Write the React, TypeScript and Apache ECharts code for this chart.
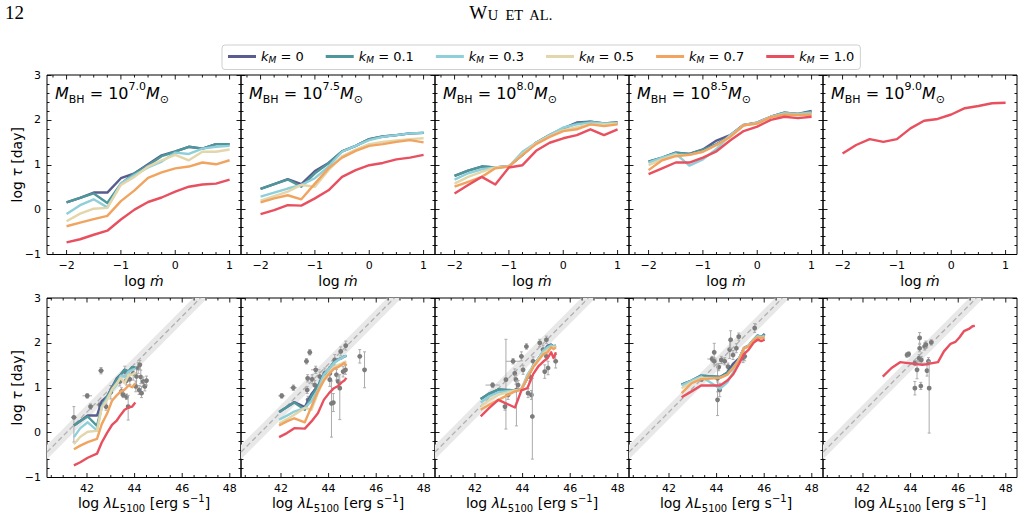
import React, { useEffect, useRef } from 'react';
import * as echarts from 'echarts';

const FONT = 'DejaVu Sans';
const SERIF = 'Liberation Serif';

// model grid in accretion rate (log mdot)
const LOG_MDOT = [-2, -1.75, -1.5, -1.25, -1, -0.75, -0.5, -0.25, 0, 0.25, 0.5, 0.75, 1];

const MASS_EXP = ['7.0', '7.5', '8.0', '8.5', '9.0'];
const K_LABELS = ['0', '0.1', '0.3', '0.5', '0.7', '1.0'];
const K_COLORS = ['#5a5b8e', '#4d979b', '#8fcfd9', '#e2d6aa', '#f0a45f', '#e8505f'];

// log tau [day] for k_M = 0, 0.1, 0.3, 0.5, 0.7, 1.0
const TAU_M70 = [
  [0.16, 0.26, 0.38, 0.38, 0.70, 0.81, 1.01, 1.21, 1.30, 1.40, 1.36, 1.46, 1.46],
  [0.16, 0.26, 0.36, 0.15, 0.58, 0.81, 0.99, 1.19, 1.29, 1.40, 1.36, 1.46, 1.46],
  [-0.10, 0.10, 0.23, 0.05, 0.58, 0.77, 0.94, 1.07, 1.27, 1.24, 1.36, 1.40, 1.42],
  [-0.26, -0.09, 0.02, 0.04, 0.55, 0.73, 0.96, 1.10, 1.22, 1.10, 1.29, 1.29, 1.34],
  [-0.37, -0.29, -0.21, -0.14, 0.19, 0.43, 0.71, 0.83, 0.92, 0.96, 1.05, 1.01, 1.10],
  [-0.73, -0.66, -0.56, -0.47, -0.22, 0.00, 0.17, 0.27, 0.40, 0.51, 0.56, 0.58, 0.67],
];
const TAU_M75 = [
  [0.46, 0.57, 0.68, 0.57, 0.86, 1.04, 1.30, 1.42, 1.57, 1.63, 1.66, 1.70, 1.71],
  [0.46, 0.57, 0.67, 0.51, 0.81, 1.03, 1.30, 1.42, 1.57, 1.63, 1.66, 1.70, 1.71],
  [0.29, 0.38, 0.47, 0.55, 0.70, 0.96, 1.29, 1.42, 1.55, 1.62, 1.66, 1.70, 1.71],
  [0.20, 0.30, 0.40, 0.55, 0.51, 0.88, 1.19, 1.34, 1.46, 1.51, 1.54, 1.57, 1.59],
  [0.16, 0.25, 0.32, 0.23, 0.58, 0.92, 1.16, 1.31, 1.42, 1.46, 1.51, 1.55, 1.50],
  [-0.10, -0.01, 0.10, 0.09, 0.25, 0.43, 0.73, 0.88, 0.99, 1.04, 1.12, 1.16, 1.22],
];
const TAU_M80 = [
  [0.75, 0.87, 0.96, 0.94, 0.97, 1.22, 1.49, 1.66, 1.81, 1.94, 1.96, 1.92, 1.94],
  [0.75, 0.87, 0.96, 0.94, 0.97, 1.22, 1.49, 1.66, 1.81, 1.92, 1.96, 1.92, 1.94],
  [0.67, 0.81, 0.90, 0.94, 0.96, 1.29, 1.49, 1.66, 1.83, 1.90, 1.94, 1.92, 1.92],
  [0.58, 0.73, 0.84, 0.94, 0.96, 1.24, 1.48, 1.64, 1.77, 1.84, 1.90, 1.90, 1.92],
  [0.51, 0.62, 0.73, 0.92, 0.96, 1.22, 1.46, 1.62, 1.75, 1.79, 1.90, 1.86, 1.90],
  [0.36, 0.55, 0.73, 0.56, 0.94, 0.99, 1.31, 1.49, 1.59, 1.66, 1.79, 1.66, 1.79],
];
const TAU_M85 = [
  [1.07, 1.16, 1.27, 1.24, 1.34, 1.54, 1.66, 1.89, 1.94, 2.07, 2.16, 2.13, 2.20],
  [1.07, 1.16, 1.27, 1.24, 1.33, 1.46, 1.64, 1.88, 1.94, 2.07, 2.16, 2.13, 2.18],
  [1.05, 1.16, 1.25, 0.98, 1.12, 1.35, 1.66, 1.88, 1.94, 2.07, 2.15, 2.13, 2.16],
  [0.99, 1.12, 1.22, 1.22, 1.29, 1.44, 1.62, 1.88, 1.92, 2.06, 2.12, 2.11, 2.12],
  [0.88, 1.10, 1.19, 1.22, 1.29, 1.44, 1.62, 1.88, 1.92, 2.06, 2.12, 2.11, 2.12],
  [0.79, 0.92, 1.05, 1.05, 1.16, 1.30, 1.54, 1.75, 1.85, 2.00, 2.07, 2.04, 2.07],
];
const TAU_M90 = [
  null, null, null, null, null,
  [1.25, 1.44, 1.57, 1.51, 1.57, 1.81, 1.98, 2.02, 2.12, 2.26, 2.31, 2.37, 2.38],
];
const TAU_BY_MASS = [TAU_M70, TAU_M75, TAU_M80, TAU_M85, TAU_M90];

// log lambda L5100 [erg/s] of the models along the mdot grid
const LUM_M70 = [41.45, 41.72, 42.03, 42.42, 42.62, 42.85, 43.05, 43.25, 43.42, 43.58, 43.75, 43.90, 44.03];
const LUM_M75 = [41.92, 42.25, 42.56, 43.00, 43.28, 43.55, 43.80, 44.02, 44.22, 44.40, 44.55, 44.66, 44.75];
const LUM_M80 = [42.24, 42.60, 42.98, 43.68, 43.95, 44.20, 44.45, 44.68, 44.88, 45.05, 45.20, 45.30, 45.40];
const LUM_M85 = [42.53, 42.95, 43.35, 44.15, 44.45, 44.70, 44.95, 45.15, 45.35, 45.55, 45.72, 45.88, 46.02];
const LUM_M90 = [42.83, 43.20, 43.56, 44.50, 45.15, 45.40, 45.68, 45.88, 46.05, 46.24, 46.45, 46.60, 46.70];
const LUM_BY_MASS = [LUM_M70, LUM_M75, LUM_M80, LUM_M85, LUM_M90];

// reverberation-mapped AGN: [log L5100, log tau, xErr, yErrLow, yErrHigh]
const OBS_M70 = [
  [41.45, 0.34, 0.12, 0.55, 0.24], [42.01, 0.82, 0.2, 0.05, 0.05], [42.15, 0.58, 0.05, 0.06, 0.06],
  [42.59, 1.38, 0.12, 0.07, 0.07], [42.54, 0.62, 0.15, 0.06, 0.06], [42.8, 0.58, 0.05, 0.08, 0.08],
  [43.0, 0.9, 0.05, 0.15, 0.15], [43.38, 1.14, 0.1, 0.1, 0.1], [43.45, 0.92, 0.05, 0.08, 0.08],
  [43.52, 0.84, 0.05, 0.06, 0.06], [43.66, 0.8, 0.05, 0.06, 0.06], [43.59, 1.36, 0.08, 0.1, 0.12],
  [43.66, 1.16, 0.05, 0.1, 0.1], [43.73, 0.58, 0.05, 0.3, 0.25], [43.8, 1.19, 0.05, 0.12, 0.12],
  [43.94, 1.32, 0.05, 0.15, 0.15], [44.08, 1.25, 0.05, 0.2, 0.18], [44.05, 1.03, 0.05, 0.12, 0.12],
  [44.15, 1.44, 0.06, 0.12, 0.12], [44.22, 1.51, 0.05, 0.1, 0.1], [44.26, 1.24, 0.05, 0.15, 0.15],
  [44.19, 0.95, 0.05, 0.1, 0.1], [44.29, 0.88, 0.05, 0.1, 0.15], [44.36, 1.14, 0.05, 0.12, 0.1],
  [44.43, 1.03, 0.05, 0.1, 0.1], [44.5, 1.16, 0.05, 0.1, 0.1],
];
const OBS_M75 = [
  [42.03, 0.82, 0.15, 0.05, 0.05], [42.52, 1.0, 0.15, 0.06, 0.06], [43.21, 1.79, 0.04, 0.06, 0.06],
  [43.07, 1.59, 0.04, 0.06, 0.06], [43.12, 1.21, 0.04, 0.08, 0.08], [43.1, 0.95, 0.04, 0.08, 0.08],
  [43.14, 0.73, 0.04, 0.08, 0.08], [43.31, 1.19, 0.05, 0.1, 0.1], [43.46, 1.4, 0.2, 0.08, 0.08],
  [43.42, 1.06, 0.05, 0.1, 0.1], [43.63, 1.25, 0.05, 0.1, 0.1], [43.84, 1.32, 0.05, 0.12, 0.12],
  [44.12, 0.65, 0.05, 0.75, 0.5], [44.05, 1.32, 0.05, 0.15, 0.15], [44.26, 1.62, 0.05, 0.12, 0.12],
  [44.33, 1.29, 0.05, 0.12, 0.12], [44.4, 1.14, 0.05, 0.12, 0.12], [44.47, 0.99, 0.05, 0.7, 0.3],
  [44.51, 1.81, 0.05, 0.1, 0.1], [44.61, 1.36, 0.05, 0.12, 0.12], [44.72, 1.94, 0.05, 0.1, 0.1],
  [44.71, 1.4, 0.05, 0.1, 0.1], [45.31, 1.7, 0.05, 0.15, 0.15], [45.51, 1.4, 0.05, 0.4, 0.4],
  [44.2, 0.67, 0.05, 0.2, 0.2], [44.05, 1.18, 0.05, 0.15, 0.15],
];
const OBS_M80 = [
  [42.74, 1.06, 0.3, 0.05, 0.05], [43.3, 1.18, 0.05, 1.1, 0.9], [43.26, 0.58, 0.05, 0.08, 0.08],
  [43.39, 0.84, 0.05, 0.1, 0.1], [43.6, 1.59, 0.3, 0.06, 0.06], [43.67, 1.32, 0.05, 0.1, 0.1],
  [43.72, 1.18, 0.05, 0.1, 0.1], [43.74, 0.95, 0.05, 0.8, 0.2], [43.81, 1.06, 0.05, 0.1, 0.1],
  [43.95, 1.7, 0.05, 0.1, 0.1], [44.02, 1.4, 0.05, 0.1, 0.1], [44.16, 1.92, 0.05, 0.06, 0.06],
  [44.23, 0.88, 0.05, 0.1, 0.1], [44.3, 1.25, 0.05, 0.1, 0.1], [44.37, 0.84, 0.05, 0.1, 0.1],
  [44.41, 0.36, 0.05, 0.95, 0.85], [44.44, 1.59, 0.05, 0.1, 0.1], [44.72, 2.0, 0.05, 0.08, 0.08],
  [44.86, 1.85, 0.05, 0.1, 0.1], [44.93, 1.36, 0.05, 0.15, 0.15], [45.0, 2.07, 0.05, 0.08, 0.08],
  [45.07, 1.44, 0.05, 0.15, 0.15], [45.0, 1.7, 0.05, 0.08, 0.08], [45.39, 1.59, 0.05, 0.15, 0.15],
];
const OBS_M85 = [
  [43.37, 1.19, 0.3, 0.05, 0.05], [43.81, 1.64, 0.2, 0.06, 0.06], [43.9, 1.79, 0.05, 0.2, 0.2],
  [43.9, 1.59, 0.05, 0.08, 0.08], [44.09, 1.46, 0.05, 0.08, 0.08], [44.04, 1.21, 0.05, 0.3, 0.3],
  [44.04, 0.73, 0.05, 0.35, 0.4], [44.2, 1.62, 0.05, 0.08, 0.08], [44.13, 0.95, 0.05, 0.15, 0.15],
  [44.34, 1.59, 0.05, 0.08, 0.08], [44.48, 1.47, 0.05, 0.08, 0.08], [44.55, 1.85, 0.05, 0.2, 0.2],
  [44.59, 2.07, 0.05, 0.2, 0.2], [44.69, 1.73, 0.05, 0.1, 0.1], [44.76, 1.44, 0.05, 0.08, 0.08],
  [44.83, 1.88, 0.05, 0.1, 0.1], [44.93, 2.14, 0.05, 0.08, 0.08], [45.11, 1.66, 0.05, 0.1, 0.1],
  [45.18, 1.7, 0.05, 0.1, 0.1], [45.6, 2.33, 0.05, 0.1, 0.1], [45.74, 2.11, 0.05, 0.06, 0.06],
];
const OBS_M90 = [
  [43.85, 1.73, 0.05, 0.05, 0.05], [43.92, 1.75, 0.05, 0.05, 0.05], [44.18, 1.55, 0.45, 0.05, 0.05],
  [44.18, 0.99, 0.05, 0.15, 0.15], [44.27, 1.4, 0.05, 0.2, 0.2], [44.36, 1.66, 0.05, 0.08, 0.08],
  [44.38, 1.88, 0.05, 0.08, 0.08], [44.38, 2.11, 0.05, 0.12, 0.12], [44.43, 1.04, 0.05, 0.08, 0.08],
  [44.45, 1.62, 0.05, 0.08, 0.08], [44.59, 1.92, 0.05, 0.08, 0.08], [44.64, 1.96, 0.05, 0.08, 0.08],
  [44.69, 1.38, 0.05, 0.12, 0.12], [44.75, 1.59, 0.05, 0.08, 0.08], [44.78, 0.99, 0.05, 1.0, 0.6],
  [44.87, 2.01, 0.05, 0.06, 0.06],
];
const OBS_BY_MASS = [OBS_M70, OBS_M75, OBS_M80, OBS_M85, OBS_M90];

// radius-luminosity relation: log tau = A + B (log L - 44), with scatter W
const RL_A = 1.527;
const RL_B = 0.533;
const RL_W = 0.16;

// axes
const TOP_X = [-2.36, 1.21];
const BOT_X = [40.32, 48.47];
const Y_RANGE = [-1, 3];
const TOP_X_MAJOR = [-2, -1, 0, 1];
const TOP_X_MINOR = [-2.25, -1.75, -1.5, -1.25, -0.75, -0.5, -0.25, 0.25, 0.5, 0.75];
const BOT_X_MAJOR = [42, 44, 46, 48];
const BOT_X_MINOR = [40.5, 41, 41.5, 42.5, 43, 43.5, 44.5, 45, 45.5, 46.5, 47, 47.5];

// layout (px)
const PANEL_LEFT = [47, 241, 435, 629, 823];
const PANEL_W = 194;
const ROW_TOP = [75, 298];
const PANEL_H = 179.5;

const minus = (v: number | string) => String(v).replace('-', '\u2212');

function tickRenderer(params: any, api: any) {
  const v = api.value(0);
  const len = api.value(1) ? 4.5 : 2.5;
  const b = api.coord([v, Y_RANGE[0]]);
  const t = api.coord([v, Y_RANGE[1]]);
  const st = { stroke: '#000', lineWidth: 0.9 };
  return {
    type: 'group',
    children: [
      { type: 'line', shape: { x1: b[0], y1: b[1], x2: b[0], y2: b[1] - len }, style: st },
      { type: 'line', shape: { x1: t[0], y1: t[1], x2: t[0], y2: t[1] + len }, style: st },
    ],
  };
}

function obsRenderer(params: any, api: any) {
  const x = api.value(0);
  const y = api.value(1);
  const xe = api.value(2);
  const lo = api.value(3);
  const hi = api.value(4);
  const c = api.coord([x, y]);
  const l = api.coord([x - xe, y]);
  const r = api.coord([x + xe, y]);
  const b = api.coord([x, y - lo]);
  const t = api.coord([x, y + hi]);
  const st = { stroke: '#ababab', lineWidth: 1 };
  const cap = 1.5;
  return {
    type: 'group',
    children: [
      { type: 'line', shape: { x1: l[0], y1: l[1], x2: r[0], y2: r[1] }, style: st },
      { type: 'line', shape: { x1: b[0], y1: b[1], x2: t[0], y2: t[1] }, style: st },
      { type: 'line', shape: { x1: b[0] - cap, y1: b[1], x2: b[0] + cap, y2: b[1] }, style: st },
      { type: 'line', shape: { x1: t[0] - cap, y1: t[1], x2: t[0] + cap, y2: t[1] }, style: st },
      { type: 'circle', shape: { cx: c[0], cy: c[1], r: 2.4 }, style: { fill: '#7c7c7c' } },
    ],
  };
}

function buildOption() {
  const grid: any[] = [];
  const xAxis: any[] = [];
  const yAxis: any[] = [];
  const series: any[] = [];
  const graphic: any[] = [];

  const rl = (x: number) => RL_A + RL_B * (x - 44);
  const xAt = (y: number) => 44 + (y - RL_A) / RL_B;
  const x0 = BOT_X[0];
  const ytop = Y_RANGE[1];
  const band = [
    [x0, rl(x0) - RL_W],
    [xAt(ytop + RL_W), ytop],
    [xAt(ytop - RL_W), ytop],
    [x0, rl(x0) + RL_W],
  ];
  const rlLine = [
    [x0, rl(x0)],
    [xAt(ytop), ytop],
  ];

  for (let row = 0; row < 2; row++) {
    for (let col = 0; col < 5; col++) {
      const g = row * 5 + col;
      grid.push({
        left: PANEL_LEFT[col], top: ROW_TOP[row], width: PANEL_W, height: PANEL_H,
        show: true, borderColor: '#000', borderWidth: 1, backgroundColor: 'transparent',
      });
      const xr = row === 0 ? TOP_X : BOT_X;
      xAxis.push({
        type: 'value', gridIndex: g, min: xr[0], max: xr[1],
        axisLine: { show: false, onZero: false },
        axisTick: { show: false },
        splitLine: { show: false },
        axisLabel: {
          customValues: row === 0 ? TOP_X_MAJOR : BOT_X_MAJOR,
          formatter: (v: number) => minus(v),
          color: '#000', fontSize: 11, fontFamily: FONT, margin: 5,
        },
      });
      for (const side of ['left', 'right']) {
        yAxis.push({
          type: 'value', gridIndex: g, position: side,
          min: Y_RANGE[0], max: Y_RANGE[1], interval: 1,
          axisLine: { show: false, onZero: false },
          axisTick: { show: true, inside: true, length: 4.5, lineStyle: { color: '#000', width: 0.9 } },
          minorTick: { show: true, splitNumber: 5, length: 2.5, lineStyle: { color: '#000', width: 0.9 } },
          splitLine: { show: false },
          minorSplitLine: { show: false },
          axisLabel: {
            show: side === 'left' && col === 0,
            formatter: (v: number) => minus(v),
            color: '#000', fontSize: 11, fontFamily: FONT, margin: 6,
          },
        });
      }

      const yi = 2 * g;
      const majors = row === 0 ? TOP_X_MAJOR : BOT_X_MAJOR;
      const minors = row === 0 ? TOP_X_MINOR : BOT_X_MINOR;
      series.push({
        type: 'custom', xAxisIndex: g, yAxisIndex: yi, silent: true, z: 20,
        data: [...majors.map((v) => [v, 1]), ...minors.map((v) => [v, 0])],
        renderItem: tickRenderer,
      });

      if (row === 1) {
        series.push({
          type: 'custom', xAxisIndex: g, yAxisIndex: yi, silent: true, z: 1,
          data: band,
          renderItem: (params: any, api: any) => {
            if (params.dataIndex !== 0) return null;
            return {
              type: 'polygon',
              shape: { points: band.map((p) => api.coord(p)) },
              style: { fill: '#e8e8e8' },
            };
          },
        });
        series.push({
          type: 'line', xAxisIndex: g, yAxisIndex: yi, silent: true, z: 2,
          data: rlLine, symbol: 'none',
          lineStyle: { color: '#b0b0b0', width: 1.3, type: [5, 3] },
        });
        series.push({
          type: 'custom', xAxisIndex: g, yAxisIndex: yi, silent: true, z: 3,
          data: OBS_BY_MASS[col],
          renderItem: obsRenderer,
        });
      }

      const taus = TAU_BY_MASS[col];
      const lums = LUM_BY_MASS[col];
      taus.forEach((tau, k) => {
        if (!tau) return;
        const xs = row === 0 ? LOG_MDOT : lums;
        series.push({
          type: 'line', name: K_LABELS[k], xAxisIndex: g, yAxisIndex: yi,
          data: tau.map((t, i) => [xs[i], t]),
          symbol: 'none', color: K_COLORS[k], z: 5 + k,
          lineStyle: { color: K_COLORS[k], width: 2.4, join: 'round' },
          clip: true,
        });
      });

      if (row === 0) {
        graphic.push({
          type: 'text', x: PANEL_LEFT[col] + 8, y: ROW_TOP[0] + 18, z: 30,
          style: {
            text: `{i|M}{sb|BH}{r| = 10}{sp|${MASS_EXP[col]}}{i|M}{sb|\u2299}`,
            align: 'left', verticalAlign: 'middle',
            rich: {
              i: { fontFamily: FONT, fontStyle: 'italic', fontSize: 16, lineHeight: 24, fill: '#000' },
              r: { fontFamily: FONT, fontSize: 16, lineHeight: 24, fill: '#000' },
              sb: { fontFamily: FONT, fontSize: 11, lineHeight: 11, verticalAlign: 'bottom', fill: '#000' },
              sp: { fontFamily: FONT, fontSize: 11, lineHeight: 11, verticalAlign: 'top', fill: '#000' },
            },
          },
        });
        graphic.push({
          type: 'text', x: PANEL_LEFT[col] + PANEL_W / 2, y: 281,
          style: {
            text: '{r|log }{i|\u1e41}',
            align: 'center', verticalAlign: 'middle',
            rich: {
              r: { fontFamily: FONT, fontSize: 14, fill: '#000' },
              i: { fontFamily: FONT, fontStyle: 'italic', fontSize: 14, fill: '#000' },
            },
          },
        });
      } else {
        graphic.push({
          type: 'text', x: PANEL_LEFT[col] + PANEL_W / 2, y: 503,
          style: {
            text: '{r|log }{i|\u03bbL}{sb|5100}{r| [erg s}{sp|\u22121}{r|]}',
            align: 'center', verticalAlign: 'middle',
            rich: {
              r: { fontFamily: FONT, fontSize: 14, lineHeight: 20, fill: '#000' },
              i: { fontFamily: FONT, fontStyle: 'italic', fontSize: 14, lineHeight: 20, fill: '#000' },
              sb: { fontFamily: FONT, fontSize: 10, lineHeight: 10, verticalAlign: 'bottom', fill: '#000' },
              sp: { fontFamily: FONT, fontSize: 10, lineHeight: 10, verticalAlign: 'top', fill: '#000' },
            },
          },
        });
      }
    }
  }

  for (const cy of [ROW_TOP[0] + PANEL_H / 2, ROW_TOP[1] + PANEL_H / 2]) {
    graphic.push({
      type: 'text', x: 17, y: cy, rotation: Math.PI / 2,
      style: {
        text: '{r|log }{i|\u03c4}{r| [day]}',
        align: 'center', verticalAlign: 'middle',
        rich: {
          r: { fontFamily: FONT, fontSize: 14, fill: '#000' },
          i: { fontFamily: FONT, fontStyle: 'italic', fontSize: 14, fill: '#000' },
        },
      },
    });
  }

  graphic.push({
    type: 'text', x: 5, y: 12,
    style: { text: '12', align: 'left', verticalAlign: 'middle', fontFamily: SERIF, fontSize: 19, fill: '#000' },
  });
  graphic.push({
    type: 'text', x: 511, y: 12,
    style: {
      text: '{a|W}{b|U  ET  AL.}',
      align: 'center', verticalAlign: 'middle',
      rich: {
        a: { fontFamily: SERIF, fontSize: 19, lineHeight: 20, verticalAlign: 'bottom', fill: '#000' },
        b: { fontFamily: SERIF, fontSize: 14.5, lineHeight: 16, verticalAlign: 'bottom', fill: '#000' },
      },
    },
  });

  return {
    animation: false,
    backgroundColor: '#fff',
    textStyle: { fontFamily: FONT },
    grid,
    xAxis,
    yAxis,
    series,
    graphic,
    legend: {
      left: 222, top: 45,
      data: K_LABELS,
      icon: 'rect', itemWidth: 28, itemHeight: 3, itemGap: 22,
      padding: [5, 6],
      borderColor: '#cfcfcf', borderWidth: 1, borderRadius: 3,
      backgroundColor: '#fff',
      selectedMode: false,
      formatter: (n: string) => `{k|k}{s|M}{t| = ${n}}`,
      textStyle: {
        color: '#000', fontFamily: FONT, fontSize: 13,
        rich: {
          k: { fontFamily: FONT, fontStyle: 'italic', fontSize: 13, lineHeight: 16 },
          s: { fontFamily: FONT, fontStyle: 'italic', fontSize: 9, lineHeight: 9, verticalAlign: 'bottom' },
          t: { fontFamily: FONT, fontSize: 13, lineHeight: 16 },
        },
      },
    },
  };
}

export default function App() {
  const ref = useRef<HTMLDivElement>(null);
  useEffect(() => {
    if (!ref.current) return;
    const chart = echarts.init(ref.current, null, { renderer: 'svg' });
    chart.setOption(buildOption() as any);
    return () => chart.dispose();
  }, []);
  return (
    <div
      ref={ref}
      style={{ position: 'fixed', left: 0, top: 0, width: 1025, height: 517, background: '#fff' }}
    />
  );
}
